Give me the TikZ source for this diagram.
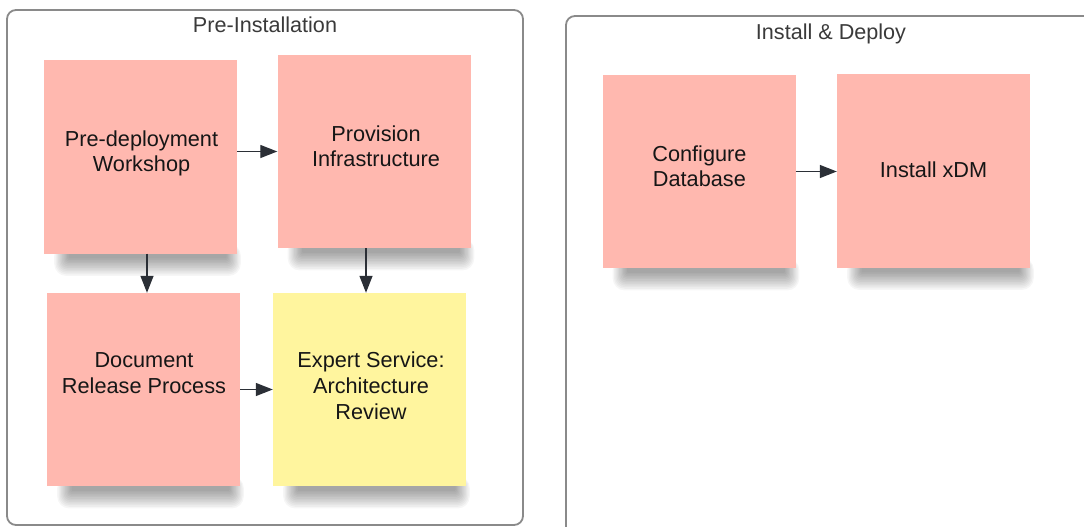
\documentclass[tikz,border=0pt]{standalone}
\usepackage{fontspec}
\setmainfont{Liberation Sans}
\usetikzlibrary{arrows.meta,backgrounds}

\definecolor{stickypink}{HTML}{FFB8AF}
\definecolor{stickyyellow}{HTML}{FFF59E}
\definecolor{framegray}{HTML}{8A8A8A}
\definecolor{arrowink}{HTML}{2B2F36}
\definecolor{titleink}{HTML}{3A3A3A}
\definecolor{bodyink}{HTML}{161616}

% soft drop shadow under the lower edge of a sticky note
\newcommand\notedrop[1]{%
  \foreach \k in {1,...,12}{%
    \fill[black, opacity=0.034, rounded corners={\k*1pt}]
      ([xshift={(26-1.3*\k)*1pt}, yshift={(4+0.5*\k)*1pt}]#1.south west) rectangle
      ([xshift={(-12+1.3*\k)*1pt}, yshift={(-3-1.6*\k)*1pt}]#1.south east);
  }%
}

\begin{document}
\begin{tikzpicture}[x=1pt,y=-1pt,
  lane/.style={draw=framegray, line width=1.8pt, rounded corners=9pt},
  lanetitle/.style={font=\fontsize{21.6}{25}\selectfont, text=titleink, anchor=base, inner sep=0pt},
  sticky/.style={rectangle, inner sep=0pt, minimum width=193pt, minimum height=193pt,
    fill=stickypink},
  stickytext/.style={font=\fontsize{21.7}{25.7}\selectfont, text=bodyink, align=center,
    inner sep=0pt, anchor=base},
  flow/.style={draw=arrowink, line width=1.3pt, -{Triangle[length=17pt,width=13pt]}},
]
\clip (0,0) rectangle (1084,527);

% swimlane frames
\draw[lane] (7,10) rectangle (523,525);
\draw[lane] (566,16) rectangle (1110,560);
\node[lanetitle] (pre-title) at (265,33) {Pre-Installation};
\node[lanetitle] (dep-title) at (831,40) {Install \& Deploy};

% sticky notes
\node[sticky] (pre)  at (140.5,157)   {};
\node[sticky] (prov) at (374,151.5)   {};
\node[sticky] (doc)  at (143.5,389.5) {};
\node[sticky, fill=stickyyellow] (exp) at (369.5,389.5) {};
\node[sticky] (conf) at (699,171.5)   {};
\node[sticky] (inst) at (933.5,171)   {};

\begin{scope}[on background layer]
  \notedrop{pre}
  \notedrop{prov}
  \notedrop{doc}
  \notedrop{exp}
  \notedrop{conf}
  \notedrop{inst}
\end{scope}

% note texts (anchored at the baseline of the last line)
\node[stickytext] (pre-t)  at (141.5,171.7) {Pre-deployment\\Workshop};
\node[stickytext] (prov-t) at (376,166.7)   {Provision\\Infrastructure};
\node[stickytext] (doc-t)  at (144,393.3)   {Document\\Release Process};
\node[stickytext] (exp-t)  at (371,419)     {Expert Service:\\Architecture\\Review};
\node[stickytext] (conf-t) at (699.4,186.7) {Configure\\Database};
\node[stickytext] (inst-t) at (933.6,177.7) {Install xDM};

% connectors
\draw[flow] (pre.east |- prov.west) -- (prov.west);
\draw[flow] ([xshift=6.5pt]pre.south) -- ([xshift=6.5pt]pre.south |- doc.north);
\draw[flow] ([xshift=-8pt]prov.south) -- ([xshift=-8pt]prov.south |- exp.north);
\draw[flow] (doc.east) -- (doc.east -| exp.west);
\draw[flow] (conf.east) -- (conf.east -| inst.west);
\end{tikzpicture}
\end{document}
